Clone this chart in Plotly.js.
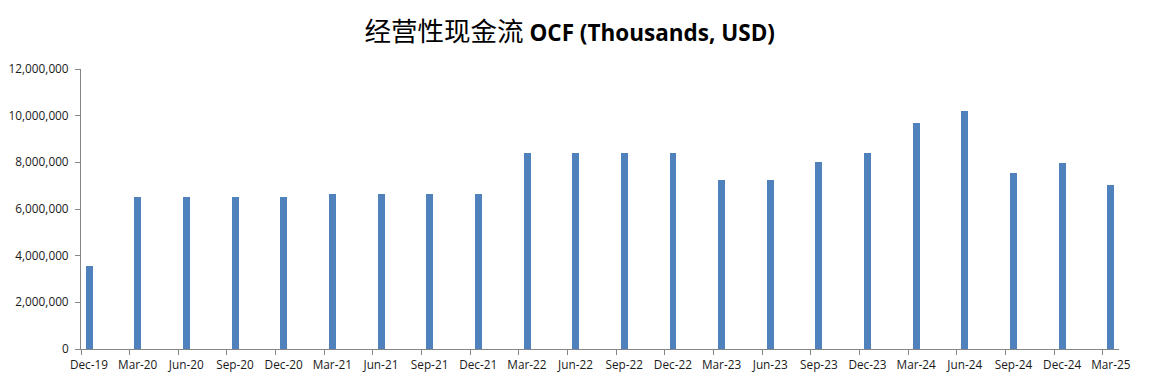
<!DOCTYPE html>
<html>
<head>
<meta charset="utf-8">
<script src="https://cdn.plot.ly/plotly-3.0.1.min.js"></script>
<style>html,body{margin:0;padding:0;background:#fff;}#chart{width:1151px;height:385px;}</style>
</head>
<body>
<div id="chart"></div>
<script>
const categories = ["Dec-19","Mar-20","Jun-20","Sep-20","Dec-20","Mar-21","Jun-21","Sep-21","Dec-21","Mar-22","Jun-22","Sep-22","Dec-22","Mar-23","Jun-23","Sep-23","Dec-23","Mar-24","Jun-24","Sep-24","Dec-24","Mar-25"];
const ocfValues = [3560000,6510000,6510000,6510000,6510000,6650000,6650000,6650000,6650000,8410000,8410000,8410000,8410000,7250000,7250000,8030000,8410000,9700000,10210000,7560000,7990000,7040000];
const yTickVals = [0,2000000,4000000,6000000,8000000,10000000,12000000];

// Excel-style date axis: one slot per month, quarters every 3 months
const monthsPerQuarter = 3;
const slotStart = categories.map((c, i) => i * monthsPerQuarter);
const barX = slotStart.map(s => s + 0.5);
const totalMonths = categories.length * monthsPerQuarter - 2;

const trace = {
  type: 'bar',
  x: barX,
  y: ocfValues,
  width: 0.43,
  marker: {color: '#4F81BD', line: {width: 0}},
  hoverinfo: 'y'
};

const axisFont = {family: 'Open Sans, Liberation Sans, sans-serif', size: 11.8, color: '#1a1a1a'};

const layout = {
  width: 1151,
  height: 385,
  margin: {l: 81, r: 32, t: 69, b: 35.5, pad: 0},
  paper_bgcolor: '#fff',
  plot_bgcolor: '#fff',
  showlegend: false,
  bargap: 0,
  title: {
    text: '<span style="font-family:Noto Sans CJK SC;font-weight:normal;font-size:26.5px">经营性现金流</span> <b>OCF (Thousands, USD)</b>',
    font: {family: 'Open Sans, Liberation Sans, sans-serif', size: 22.5, color: '#000'},
    x: 0.495, xanchor: 'center', y: 0.915, yanchor: 'middle'
  },
  xaxis: {
    range: [0, totalMonths],
    tickmode: 'array',
    tickvals: slotStart,
    ticktext: categories,
    ticks: 'outside',
    ticklen: 5,
    tickcolor: '#868686',
    tickwidth: 1,
    ticklabelshift: 8,
    showline: true,
    linecolor: '#868686',
    linewidth: 1,
    showgrid: false,
    zeroline: false,
    tickfont: axisFont,
    fixedrange: true
  },
  yaxis: {
    range: [0, 12000000],
    tickmode: 'array',
    tickvals: yTickVals,
    tickformat: ',d',
    ticks: 'outside',
    ticklen: 5,
    tickcolor: '#868686',
    tickwidth: 1,
    showline: true,
    linecolor: '#868686',
    linewidth: 1,
    showgrid: false,
    zeroline: false,
    tickfont: axisFont,
    ticklabelstandoff: 4,
    fixedrange: true
  }
};

Plotly.newPlot('chart', [trace], layout, {displayModeBar: false, staticPlot: true});
</script>
</body>
</html>
